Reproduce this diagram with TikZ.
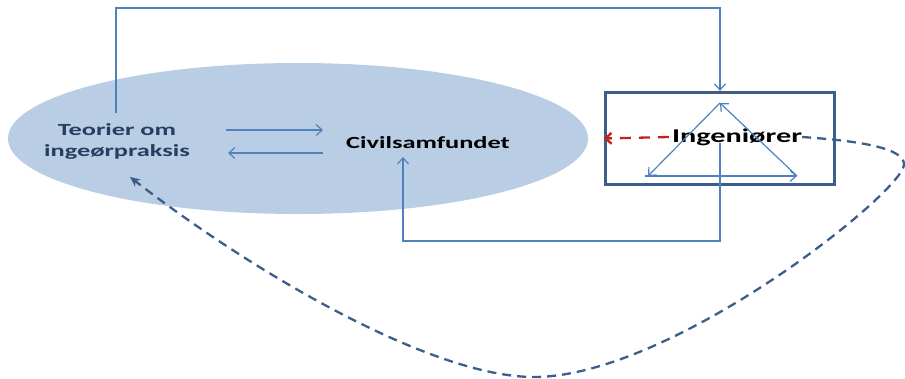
\documentclass[tikz,border=0pt]{standalone}
\usepackage{fontspec}
\setmainfont{Carlito}[FakeStretch=1.55]
\usetikzlibrary{shapes.geometric,arrows.meta,calc}
\definecolor{cloudfill}{RGB}{185,205,229}
\definecolor{linkblue}{RGB}{79,129,189}
\definecolor{framedark}{RGB}{59,94,140}
\definecolor{textdark}{RGB}{36,63,96}
\definecolor{backred}{RGB}{200,30,30}
\tikzset{
  conn/.style={linkblue, line width=1.2pt, -{Straight Barb[length=6pt,width=11pt]}},
  loopdash/.style={framedark, line width=2.3pt, dash pattern=on 9pt off 6pt,
                   -{Stealth[length=10pt,width=9pt]}},
  reddash/.style={backred, line width=2.3pt, dash pattern=on 11pt off 8pt,
                  -{Straight Barb[length=6pt,width=11pt]}},
  label/.style={font=\bfseries\fontsize{17}{21}\selectfont, align=center, inner sep=0pt}
}
\begin{document}
\begin{tikzpicture}[x=1pt,y=-1pt]
  \useasboundingbox (0,0) rectangle (905,378);

  % field shared by theory and civil society
  \node[ellipse, fill=cloudfill, minimum width=580pt, minimum height=151pt, inner sep=0pt]
    (field) at (298,138.5) {};

  % labels
  \node[label, text=textdark] (teori) at (117,141) {Teorier om\\ingeørpraksis};
  \node[label, text=black] (civil) at (428,143) {Civilsamfundet};

  % engineers box
  \node[draw=framedark, line width=3.3pt, minimum width=229pt, minimum height=92pt, inner sep=0pt]
    (box) at (720,138.5) {};
  \node[label, text=black, font=\bfseries\fontsize{19.5}{22}\selectfont] (ing) at (737,137) {Ingeniører};

  % triangle inside the box
  \coordinate (tA) at (720,103);
  \coordinate (tL) at (648,176);
  \coordinate (tL0) at (645,176);
  \coordinate (tR) at (797,176);
  \draw[conn] (tA) -- (tL);
  \draw[conn] (tL0) -- (tR);
  \draw[conn] (tR) -- (tA);

  % two-way exchange between theory and civil society
  \coordinate (r1) at (226,130);
  \coordinate (r2) at (323,130);
  \coordinate (l1) at (323,153);
  \coordinate (l2) at (228,153);
  \draw[conn] (r1) -- (r2);
  \draw[conn] (l1) -- (l2);

  % theory -> engineers over the top
  \coordinate (teoriTop) at (116,113);
  \coordinate (topRight) at (720,8);
  \draw[conn] (teoriTop) |- (topRight) -- (box.north);

  % engineers -> civil society underneath
  \coordinate (ingLow) at (720,143);
  \coordinate (lowRight) at (720,241);
  \coordinate (lowLeft) at (403,241);
  \coordinate (civilLow) at (403,157);
  \draw[conn] (ingLow) -- (lowRight) -- (lowLeft) -- (civilLow);

  % dashed feedback
  \coordinate (loopEnd) at (130,177);
  \draw[reddash] ([xshift=-3pt]ing.west) -- (box.west);
  \draw[loopdash] (ing.east) .. controls (860,141) and (905,148) .. (904,165)
    .. controls (900,195) and (670,377) .. (534,377)
    .. controls (430,377) and (250,270) .. (loopEnd);
\end{tikzpicture}
\end{document}
